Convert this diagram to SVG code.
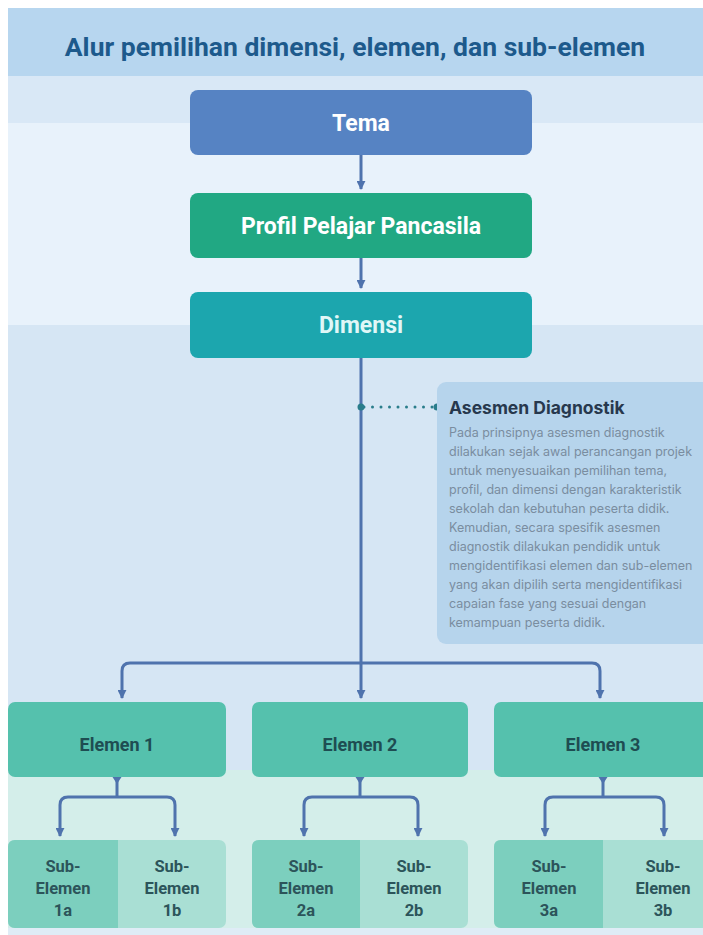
<svg xmlns="http://www.w3.org/2000/svg" width="703" height="935" viewBox="0 0 703 935">
<style>
.ttl{font-family:Roboto,"Liberation Sans",sans-serif;font-weight:700;font-size:26.5px;fill:#1d5a8c;text-anchor:middle}
.big{font-family:Roboto,"Liberation Sans",sans-serif;font-weight:700;font-size:23px;fill:#ffffff;text-anchor:middle}
.el{font-family:Roboto,"Liberation Sans",sans-serif;font-weight:700;font-size:18px;fill:#1e4d52;text-anchor:middle}
.sub{font-family:Roboto,"Liberation Sans",sans-serif;font-weight:700;font-size:16.5px;fill:#2c545a;text-anchor:middle}
.ah{font-family:Inter,"Liberation Sans",sans-serif;font-weight:700;font-size:17.5px;fill:#27384d}
.ab{font-family:Inter,"Liberation Sans",sans-serif;font-weight:400;font-size:12.5px;fill:#7a8da0}
.cn{fill:none;stroke:#4f73ad;stroke-width:3;stroke-linejoin:round}
.tip{fill:#4f73ad}
</style>
<defs>
<marker id="arr" viewBox="0 0 10 10" refX="9" refY="5" markerWidth="3" markerHeight="3" orient="auto" markerUnits="strokeWidth">
<path d="M0,0 L10,5 L0,10 z" fill="#4f73ad"/>
</marker>
</defs>
<rect x="0" y="0" width="703" height="935" fill="#ffffff"/>
<g id="background">
<rect x="8" y="8" width="695" height="68" fill="#b7d6ef"/>
<rect x="8" y="76" width="695" height="47" fill="#d9e8f6"/>
<rect x="8" y="123" width="695" height="202" fill="#e8f2fb"/>
<rect x="8" y="325" width="695" height="445" fill="#d6e6f4"/>
<rect x="8" y="770" width="695" height="158" fill="#d4eeea"/>
<rect x="8" y="928" width="695" height="7" fill="#dfecf6"/>
</g>
<g id="title">
<text class="ttl" x="355" y="56">Alur pemilihan dimensi, elemen, dan sub-elemen</text>
</g>
<g id="connectors">
<path class="cn" d="M361,155 V189" marker-end="url(#arr)"/>
<path class="cn" d="M361,258 V288" marker-end="url(#arr)"/>
<path class="cn" d="M361,358 V698" marker-end="url(#arr)"/>
<path class="cn" d="M361,663 H130 Q122,663 122,671 V698" marker-end="url(#arr)"/>
<path class="cn" d="M361,663 H592 Q600,663 600,671 V698" marker-end="url(#arr)"/>
<path class="cn" d="M117,777 V797"/>
<path class="cn" d="M117,797 H68 Q60,797 60,805 V836" marker-end="url(#arr)"/>
<path class="cn" d="M117,797 H167 Q175,797 175,805 V836" marker-end="url(#arr)"/>
<path class="cn" d="M360,777 V797"/>
<path class="cn" d="M360,797 H312 Q304,797 304,805 V836" marker-end="url(#arr)"/>
<path class="cn" d="M360,797 H410 Q418,797 418,805 V836" marker-end="url(#arr)"/>
<path class="cn" d="M603,777 V797"/>
<path class="cn" d="M603,797 H553 Q545,797 545,805 V836" marker-end="url(#arr)"/>
<path class="cn" d="M603,797 H656 Q664,797 664,805 V836" marker-end="url(#arr)"/>
<path class="tip" d="M112.5,777 H121.5 L117,784 Z"/>
<path class="tip" d="M355.5,777 H364.5 L360,784 Z"/>
<path class="tip" d="M598.5,777 H607.5 L603,784 Z"/>
<g id="dotted">
<line x1="364" y1="407" x2="435" y2="407" stroke="#2a7d8b" stroke-width="3" stroke-linecap="round" stroke-dasharray="0 8.5"/>
<circle cx="361" cy="407" r="3.5" fill="#2a7d8b"/>
<circle cx="437" cy="407" r="3.5" fill="#2a7d8b"/>
</g>
</g>
<g id="tema">
<rect x="190" y="90" width="342" height="65" rx="8" fill="#5683c3"/>
<text class="big" x="361" y="131">Tema</text>
</g>
<g id="profil">
<rect x="190" y="193" width="342" height="65" rx="8" fill="#21a883"/>
<text class="big" x="361" y="234">Profil Pelajar Pancasila</text>
</g>
<g id="dimensi">
<rect x="190" y="292" width="342" height="66" rx="8" fill="#1ca6ae"/>
<text class="big" x="361" y="333" style="fill:#e0f7f7">Dimensi</text>
</g>
<g id="asesmen">
<rect x="437" y="382" width="280" height="262" rx="9" fill="#b6d4ec"/>
<text class="ah" x="449" y="414">Asesmen Diagnostik</text>
<text class="ab" x="449" y="437">Pada prinsipnya asesmen diagnostik</text>
<text class="ab" x="449" y="456">dilakukan sejak awal perancangan projek</text>
<text class="ab" x="449" y="475">untuk menyesuaikan pemilihan tema,</text>
<text class="ab" x="449" y="494">profil, dan dimensi dengan karakteristik</text>
<text class="ab" x="449" y="513">sekolah dan kebutuhan peserta didik.</text>
<text class="ab" x="449" y="532">Kemudian, secara spesifik asesmen</text>
<text class="ab" x="449" y="551">diagnostik dilakukan pendidik untuk</text>
<text class="ab" x="449" y="570">mengidentifikasi elemen dan sub-elemen</text>
<text class="ab" x="449" y="589">yang akan dipilih serta mengidentifikasi</text>
<text class="ab" x="449" y="608">capaian fase yang sesuai dengan</text>
<text class="ab" x="449" y="627">kemampuan peserta didik.</text>
</g>
<g id="elemen1">
<rect x="8" y="702" width="218" height="75" rx="7" fill="#55c1ad"/>
<text class="el" x="117" y="751">Elemen 1</text>
</g>
<g id="elemen2">
<rect x="252" y="702" width="216" height="75" rx="7" fill="#55c1ad"/>
<text class="el" x="360" y="751">Elemen 2</text>
</g>
<g id="elemen3">
<rect x="494" y="702" width="218" height="75" rx="7" fill="#55c1ad"/>
<text class="el" x="603" y="751">Elemen 3</text>
</g>
<g id="sub1">
<rect x="8" y="840" width="218" height="88" rx="7" fill="#a9dfd4"/>
<path d="M118,840 H15 Q8,840 8,847 V921 Q8,928 15,928 H118 Z" fill="#7ccfbe"/>
<text class="sub" x="63" y="872">Sub-</text>
<text class="sub" x="63" y="894">Elemen</text>
<text class="sub" x="63" y="916">1a</text>
<text class="sub" x="172" y="872">Sub-</text>
<text class="sub" x="172" y="894">Elemen</text>
<text class="sub" x="172" y="916">1b</text>
</g>
<g id="sub2">
<rect x="252" y="840" width="216" height="88" rx="7" fill="#a9dfd4"/>
<path d="M360,840 H259 Q252,840 252,847 V921 Q252,928 259,928 H360 Z" fill="#7ccfbe"/>
<text class="sub" x="306" y="872">Sub-</text>
<text class="sub" x="306" y="894">Elemen</text>
<text class="sub" x="306" y="916">2a</text>
<text class="sub" x="414" y="872">Sub-</text>
<text class="sub" x="414" y="894">Elemen</text>
<text class="sub" x="414" y="916">2b</text>
</g>
<g id="sub3">
<rect x="494" y="840" width="218" height="88" rx="7" fill="#a9dfd4"/>
<path d="M603,840 H501 Q494,840 494,847 V921 Q494,928 501,928 H603 Z" fill="#7ccfbe"/>
<text class="sub" x="549" y="872">Sub-</text>
<text class="sub" x="549" y="894">Elemen</text>
<text class="sub" x="549" y="916">3a</text>
<text class="sub" x="663" y="872">Sub-</text>
<text class="sub" x="663" y="894">Elemen</text>
<text class="sub" x="663" y="916">3b</text>
</g>
</svg>
